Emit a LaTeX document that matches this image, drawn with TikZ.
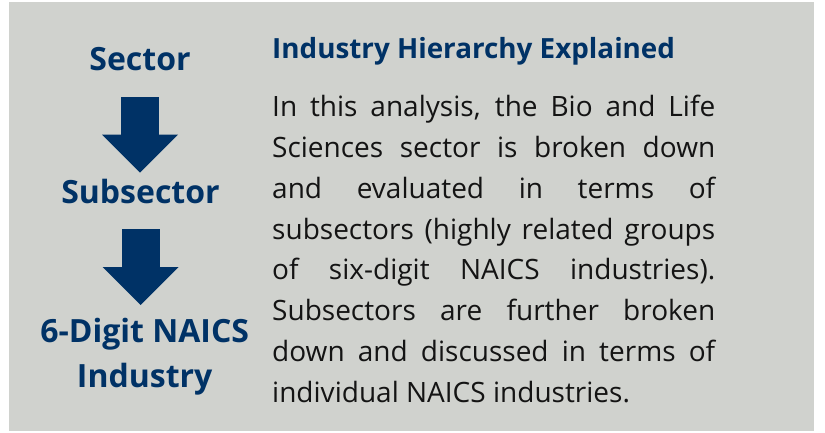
\documentclass[tikz,border=0pt]{standalone}
\usepackage{fontspec}
\setmainfont{Open Sans}
\usetikzlibrary{arrows.meta, positioning}
\definecolor{hierblue}{RGB}{0, 50, 102}
\definecolor{panelgrey}{RGB}{208, 210, 206}
\definecolor{bodyink}{RGB}{20, 20, 20}

\begin{document}
\begin{tikzpicture}[
    x=1pt, y=-1pt,
    level/.style={font=\fontsize{32}{45}\selectfont\bfseries, text=hierblue, inner sep=0pt, outer sep=0pt, align=center},
    heading/.style={font=\fontsize{27.8}{34}\selectfont\bfseries, text=hierblue, inner sep=0pt, anchor=base west},
    bodyline/.style={font=\fontsize{28}{34}\selectfont, text=bodyink, inner sep=0pt, anchor=base west},
    downarrow/.style={draw=hierblue, line width=38pt, -{Triangle[width=76pt, length=38pt, line width=0pt]}}
]
    % Panel
    \useasboundingbox (0, 0) rectangle (825, 433);
    \fill[panelgrey] (9, 2) rectangle (814, 431);

    % Hierarchy (left column)
    \node[level, anchor=base] (sector) at (140, 71) {Sector};
    \node[level, anchor=base] (subsector) at (140.5, 204) {Subsector};
    \node[level, anchor=north] (naics) at (144.7, 318.5) {6-Digit NAICS\\Industry};

    % Block arrows
    \draw[downarrow, shorten <=26pt, shorten >=7pt] (sector.south) -- (sector.south |- subsector.north);
    \draw[downarrow, shorten <=25pt, shorten >=13.5pt] (subsector.south) -- (subsector.south |- naics.north);

    % Explanation (right column)
    \node[heading] (title) at (272, 59) {Industry Hierarchy Explained};

    % Justified lines
    \foreach \ln [count=\i] in {
        {In this analysis, the Bio and Life},
        {Sciences sector is broken down},
        {and evaluated in terms of},
        {subsectors (highly related groups},
        {of six-digit NAICS industries).},
        {Subsectors are further broken},
        {down and discussed in terms of}} {
        \node[bodyline] (body\i) at (272, 117 + 40.7*\i - 40.7) {\makebox[443pt][s]{\ln}};
    }
    \node[bodyline] (body8) at (272, 402) {individual NAICS industries.};

\end{tikzpicture}
\end{document}
